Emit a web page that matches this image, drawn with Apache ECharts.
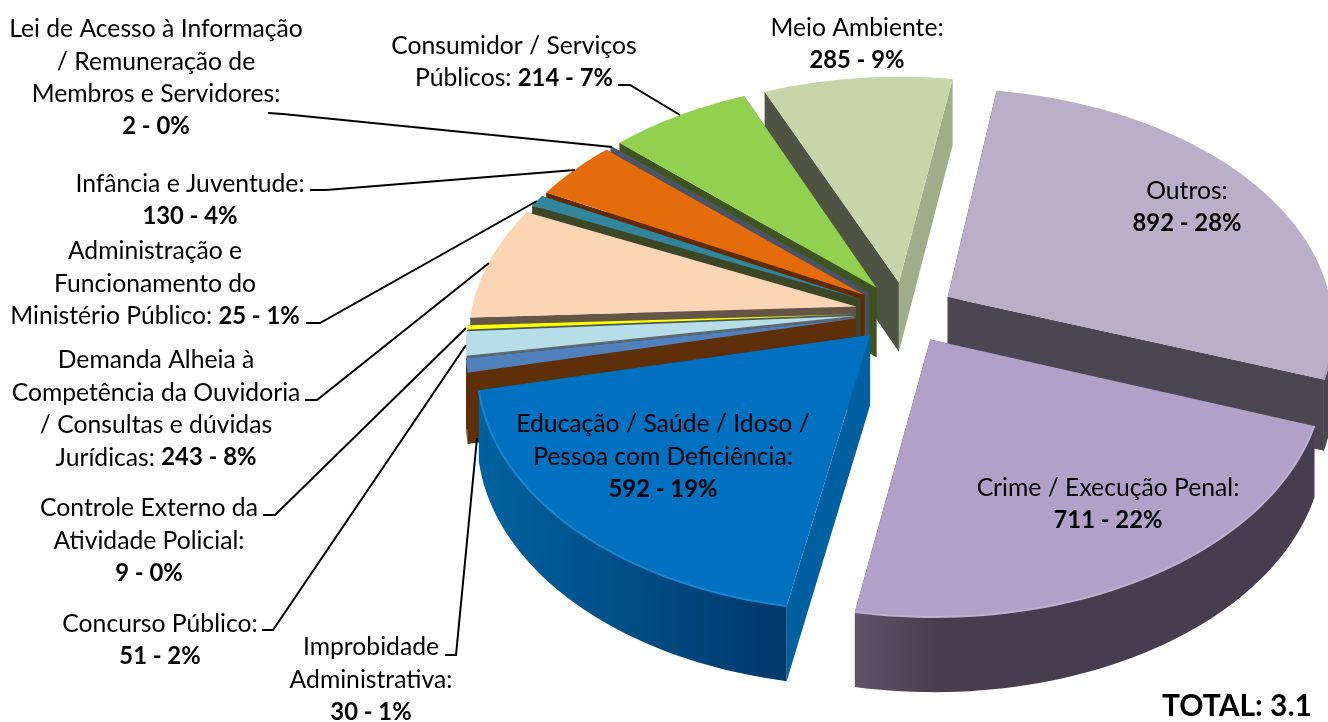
<!DOCTYPE html>
<html><head><meta charset="utf-8">
<style>html,body{margin:0;padding:0;background:#fff}#c{width:1328px;height:722px}</style>
<script src="https://cdn.jsdelivr.net/npm/echarts@6/dist/echarts.min.js"></script>
</head><body><div id="c"></div>
<script>
// ---- data (clockwise from the top-right slice) ----
const categories = [
  ['Outros:'],
  ['Crime / Execução Penal:'],
  ['Educação / Saúde / Idoso /', 'Pessoa com Deficiência:'],
  ['Improbidade', 'Administrativa:'],
  ['Concurso Público:'],
  ['Controle Externo da', 'Atividade Policial:'],
  ['Demanda Alheia à', 'Competência da Ouvidoria', '/ Consultas e dúvidas', 'Jurídicas:'],
  ['Administração e', 'Funcionamento do', 'Ministério Público:'],
  ['Infância e Juventude:'],
  ['Lei de Acesso à Informação', '/ Remuneração de', 'Membros e Servidores:'],
  ['Consumidor / Serviços', 'Públicos:'],
  ['Meio Ambiente:']
];
const values   = [892, 711, 592, 30, 51, 9, 243, 25, 130, 2, 214, 285];
const percents = [28, 22, 19, 1, 2, 0, 8, 1, 4, 0, 7, 9];
const valueInline = [false, false, false, false, false, false, true, true, false, false, true, false];
const totalLabel = 'TOTAL: 3.1';

// ---- styles ----
const topColors   = ['#b9afc9','#b1a0c7','#0070c0','#4f81bd','#b7dee8','#ffff00','#fcd5b5','#31859c','#e46c0a','#4f5b74','#92d050','#c6d6aa'];
const startColors = ['#4a4652','#4a4652','#0060a0','#5f2f08','#5a6a70','#4a5a50','#635548','#3b4725','#602a05','#4a5468','#3f5420','#4f5343'];
const endColors   = ['#4a4652','#4a4652','#0060a0','#5f2f08','#5a6a70','#4a5a50','#635548','#3b4725','#602a05','#4a5468','#3f5420','#a0ad88'];
const rimStops    = [['#4a4652','#4a4652'],['#5f5368','#463e4e'],['#00629f','#00386b'],['#5f2f08','#5f2f08'],['#a5c8d2','#a5c8d2'],['#cc0','#cc0'],['#e0bd9f','#e0bd9f'],['#2a7085','#2a7085'],['#c05a08','#c05a08'],['#4a5468','#4a5468'],['#7ab040','#7ab040'],['#a0ad88','#a0ad88']];
const bevelColors = ['#a8a0b5','#bfb1d2','#1b86d0',null,null,null,null,null,null,null,null,null];

// ---- layout ----
const FONT = 'Lato, "Open Sans", sans-serif';
const cx = 905, cy = 312.5, R = 385, tilt = 0.616, persp = 0.12, depth = 70, explode = 50, startDeg = 9;
const labelPos = [[1187,207],[1108,504],[663,457],[371,680],[160,640],[149,541],[156,409],[155,284],[190,200],[156,78],[514,62],[857,44]];
const leaders = [null,null,null,
  [[445,655],[456,655],[477,438]],
  [[262,630],[273,630],[466,345]],
  [[263,515],[275,515],[466,328]],
  [[305,400],[317,400],[489,263]],
  [[306,323],[320,323],[537,201]],
  [[310,190],[326,190],[575,170]],
  [[268,113],[283,114],[612,147]],
  [[618,85],[630,85],[680,115]],
  null];

const total = values.reduce((a, b) => a + b, 0);
const rad = d => d * Math.PI / 180;
function project(X, Y, h) {
  const k = 1 / (1 + persp * Y / R);
  return [cx + X * k, cy - Y * tilt * k + (h ? depth * Math.sqrt(k) : 0)];
}

function renderSlice(params, api) {
  const i = params.dataIndex;
  let before = 0;
  for (let j = 0; j < i; j++) before += values[j];
  const a0 = startDeg + before / total * 360;
  const a1 = a0 + api.value(0) / total * 360;
  const mid = rad((a0 + a1) / 2);
  const ox = Math.sin(mid) * explode, oy = Math.cos(mid) * explode;
  const n = Math.max(2, Math.ceil((a1 - a0) / 1.5));
  const arcT = [], arcB = [], rimT = [], rimB = [];
  for (let s = 0; s <= n; s++) {
    const t = rad(a0 + (a1 - a0) * s / n);
    const X = ox + R * Math.sin(t), Y = oy + R * Math.cos(t);
    const pT = project(X, Y, false), pB = project(X, Y, true);
    arcT.push(pT); arcB.push(pB);
    if (Math.cos(t) < -0.05) { rimT.push(pT); rimB.push(pB); }
  }
  const apexT = project(ox, oy, false), apexB = project(ox, oy, true);
  // painter's order: further back (larger Y) is drawn first
  const z = Math.round(1000 - Math.cos(mid) * 400);
  const poly = (points, fill, zz) => ({
    type: 'polygon', shape: { points }, z2: zz,
    style: { fill, stroke: null }, silent: true
  });
  const children = [
    poly([apexT, arcT[0], arcB[0], apexB], startColors[i], z),
    poly([apexT, arcT[n], arcB[n], apexB], endColors[i], z),
    poly([apexT].concat(arcT), topColors[i], z + 2)
  ];
  if (rimT.length > 1) {
    children.push(poly(rimT.concat(rimB.slice().reverse()),
      new echarts.graphic.LinearGradient(0, 0, 1, 0, [
        { offset: 0, color: rimStops[i][0] },
        { offset: i === 1 ? 0.18 : 1, color: rimStops[i][1] },
        { offset: 1, color: rimStops[i][1] }
      ]), z + 1));
    if (bevelColors[i]) {
      children.push({
        type: 'polyline', shape: { points: rimT }, z2: z + 3, silent: true,
        style: { stroke: bevelColors[i], lineWidth: 2, fill: null }
      });
    }
  }
  if (leaders[i]) {
    children.push({
      type: 'polyline', shape: { points: leaders[i] }, z2: 3000, silent: true,
      style: { stroke: '#000', lineWidth: 2, fill: null }
    });
  }
  const lines = categories[i].map(s => '{n|' + s + '}');
  const vt = '{b|' + api.value(0) + ' - ' + percents[i] + '%}';
  if (valueInline[i]) lines[lines.length - 1] += '{n| }' + vt; else lines.push(vt);
  children.push({
    type: 'text', z2: 3001, silent: true,
    style: {
      x: labelPos[i][0], y: labelPos[i][1], align: 'center', verticalAlign: 'middle',
      text: lines.join('\n'),
      rich: {
        n: { fontFamily: FONT, fontSize: 24.7, lineHeight: 32.5, fill: '#000' },
        b: { fontFamily: FONT, fontSize: 23.8, lineHeight: 32.5, fontWeight: 'bold', fill: '#000' }
      }
    }
  });
  return { type: 'group', children };
}

const chart = echarts.init(document.getElementById('c'), null, { renderer: 'canvas' });
chart.setOption({
  animation: false,
  backgroundColor: '#fff',
  title: {
    text: totalLabel, right: 11, top: 686,
    textStyle: { fontFamily: FONT, fontSize: 30, fontWeight: 'bold', color: '#000' }
  },
  series: [{
    type: 'custom', coordinateSystem: 'none', silent: true,
    data: values.map(v => [v]),
    renderItem: renderSlice
  }]
});
</script></body></html>
